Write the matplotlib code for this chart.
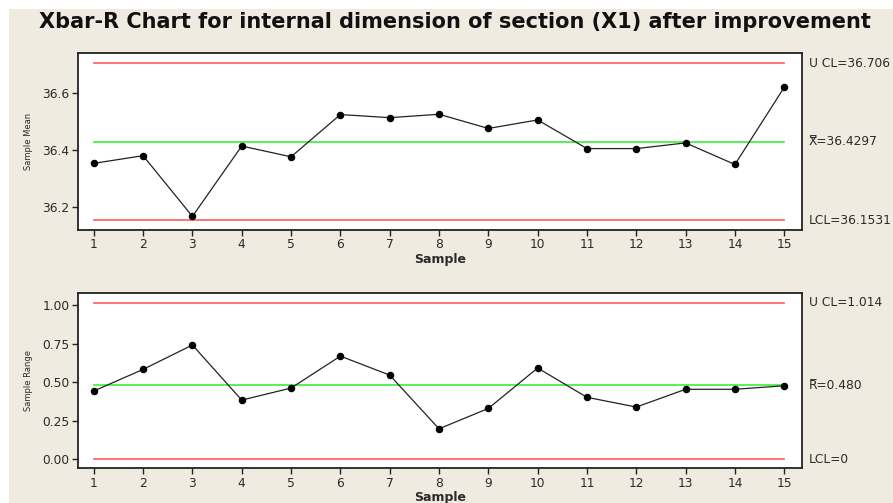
"""
Xbar-R control chart for the internal dimension of section X1.
"""

import matplotlib.pyplot as plt
from matplotlib.patches import Rectangle

# Sample numbers and subgroup statistics
samples = list(range(1, 16))
sample_means = [36.353, 36.380, 36.166, 36.414, 36.376, 36.525, 36.514, 36.526,
                36.476, 36.506, 36.405, 36.405, 36.425, 36.349, 36.621]
sample_ranges = [0.443, 0.583, 0.741, 0.384, 0.462, 0.669, 0.546, 0.198,
                 0.330, 0.592, 0.402, 0.339, 0.454, 0.454, 0.477]

# Control limits
xbar_ucl, xbar_cl, xbar_lcl = 36.706, 36.4297, 36.1531
r_ucl, r_cl, r_lcl = 1.014, 0.480, 0.0

xbar_labels = ["U CL=36.706", "X\u033f=36.4297", "LCL=36.1531"]
r_labels = ["U CL=1.014", "R\u0305=0.480", "LCL=0"]

W, H = 893, 503
BG = "#efebe1"
RED = "#ff5c5c"
GREEN = "#3af03a"
TXT = "#2a2a2a"

fig = plt.figure(figsize=(W / 100, H / 100), dpi=100)
fig.patch.set_facecolor("white")
fig.patches.append(Rectangle((9 / W, 0), 1, 1 - 9 / H, transform=fig.transFigure,
                             facecolor=BG, edgecolor="none", zorder=-1))

fig.text(455 / W, 1 - 22 / H,
         "Xbar-R Chart for internal dimension of section (X1) after improvement",
         ha="center", va="center", fontsize=15, fontweight="bold", color="#111111")


def control_panel(rect, values, limits, labels, ylim, yticks, ytick_fmt, ylabel):
    ax = fig.add_axes(rect)
    ax.set_facecolor("white")
    ucl, cl, lcl = limits
    x0, x1 = samples[0], samples[-1]
    ax.plot([x0, x1], [ucl, ucl], color=RED, lw=1.2, zorder=1)
    ax.plot([x0, x1], [lcl, lcl], color=RED, lw=1.2, zorder=1)
    ax.plot([x0, x1], [cl, cl], color=GREEN, lw=1.2, zorder=1)
    ax.plot(samples, values, color="#222222", lw=0.9, marker="o",
            markersize=4.4, markerfacecolor="black", markeredgecolor="black", zorder=3)

    ax.set_xlim(0.68, 15.36)
    ax.set_ylim(*ylim)
    ax.set_xticks(samples)
    ax.set_yticks(yticks)
    ax.set_yticklabels([ytick_fmt.format(v) for v in yticks])
    ax.tick_params(direction="out", length=4, width=1, colors="#222222",
                   labelsize=8.8, labelcolor=TXT, pad=2)
    for s in ax.spines.values():
        s.set_linewidth(1.3)
        s.set_color("#222222")
    ax.set_xlabel("Sample", fontsize=9, fontweight="bold", color=TXT, labelpad=1)
    ax.set_ylabel(ylabel, fontsize=6, color=TXT, labelpad=7)

    # limit annotations on the right
    for val, lab in zip(limits, labels):
        ax.annotate(lab, xy=(1, val), xycoords=("axes fraction", "data"),
                    xytext=(5, 0), textcoords="offset points",
                    ha="left", va="center", fontsize=8.8, color=TXT)
    return ax


control_panel([78 / W, 273 / H, 724 / W, 177 / H], sample_means,
              (xbar_ucl, xbar_cl, xbar_lcl), xbar_labels,
              (36.118, 36.742), [36.2, 36.4, 36.6], "{:.1f}", "Sample Mean")

control_panel([78 / W, 34.7 / H, 724 / W, 175.6 / H], sample_ranges,
              (r_ucl, r_cl, r_lcl), r_labels,
              (-0.058, 1.08), [0.0, 0.25, 0.5, 0.75, 1.0], "{:.2f}", "Sample Range")

fig.savefig("out.png", dpi=100, facecolor=fig.get_facecolor())
